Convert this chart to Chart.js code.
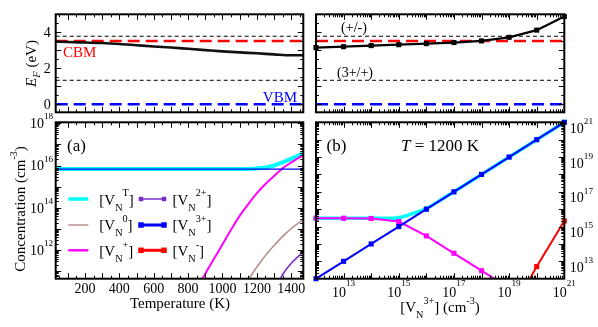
<!DOCTYPE html>
<html>
<head>
<meta charset="utf-8">
<title>Nitrogen vacancy charge states</title>
<script src="https://cdn.jsdelivr.net/npm/chart.js@4.4.1/dist/chart.umd.min.js"></script>
<style>
  html, body { margin: 0; padding: 0; background: #fff; }
  #fig { position: relative; width: 598px; height: 327px; overflow: hidden; }
  #fig canvas { position: absolute; left: 0; top: 0; }
</style>
</head>
<body>
<div id="fig">
  <canvas id="efTemp" width="598" height="327"></canvas>
  <canvas id="efDop" width="598" height="327"></canvas>
  <canvas id="concTemp" width="598" height="327"></canvas>
  <canvas id="concDop" width="598" height="327"></canvas>
</div>
<script>
const SERIF = '"Liberation Serif", "Times New Roman", Times, serif';

// ---------- (a) temperature sweep ----------
const efTemps   = [30, 100, 200, 300, 400, 500, 600, 700, 800, 900, 1000, 1100, 1200, 1300, 1400, 1470];
const efVsTemp  = [3.48, 3.46, 3.43, 3.40, 3.35, 3.28, 3.21, 3.15, 3.08, 3.01, 2.94, 2.88, 2.83, 2.77, 2.72, 2.72];

const flatTemps     = [30, 1470];
const vn3VsTemp     = [6.8e15, 6.8e15];

const totalTemps    = [30, 1100, 1150, 1200, 1250, 1300, 1350, 1400, 1450, 1470];
const totalVsTemp   = [6.8e15, 6.8e15, 6.9e15, 7.3e15, 8.1e15, 1.0e16, 1.42e16, 2.1e16, 3.2e16, 3.7e16];

const plusTemps     = [850, 900, 950, 1000, 1050, 1100, 1150, 1200, 1250, 1300, 1350, 1400, 1450, 1470];
const plusVsTemp    = [1.5e10, 7.8e10, 3.8e11, 1.9e12, 9.3e12, 4.2e13, 1.5e14, 5.0e14, 1.35e15, 3.2e15, 7.4e15, 1.4e16, 2.5e16, 3.0e16];

const neutralTemps  = [1100, 1150, 1200, 1250, 1300, 1350, 1400, 1450, 1470];
const neutralVsTemp = [8.9e9, 4.0e10, 1.6e11, 5.6e11, 1.66e12, 4.5e12, 1.05e13, 2.1e13, 2.75e13];

const twoPlusTemps  = [1300, 1350, 1400, 1450, 1470];
const twoPlusVsTemp = [1.0e10, 7.1e10, 2.4e11, 6.0e11, 8.5e11];

// ---------- (b) [VN3+] sweep at 1200 K ----------
const vn3Doping     = [1e12, 1e13, 1e14, 1e15, 1e16, 1e17, 1e18, 1e19, 1e20, 1e21];
const efVsDoping    = [3.15, 3.20, 3.26, 3.31, 3.37, 3.43, 3.52, 3.72, 4.12, 4.88];
const totalVsDoping = [3.0e15, 3.0e15, 3.0e15, 3.0e15, 1.03e16, 1.0e17, 1.0e18, 1.0e19, 1.0e20, 1.0e21];
const plusVsDoping  = [3.0e15, 3.0e15, 2.9e15, 1.95e15, 2.9e14, 2.9e13, 2.9e12, 2.9e11, 2.9e10, 2.9e9];
const minusVsDoping = [null, null, null, null, null, null, null, 7e9, 5e12, 2.1e15];

// band edges and transition levels (eV)
const bandEdges        = [3.52, 0];      // CBM, VBM
const transitionLevels = [3.78, 1.33];   // (+/-), (3+/+)

// axis tick labels
const efTickLabels   = [0, 2, 4];
const tempTickLabels = [200, 400, 600, 800, 1000, 1200, 1400];
const concTickExps   = [12, 14, 16, 18];
const dopTickExps    = [13, 15, 17, 19, 21];

// axis ranges
const tempRange = [30, 1470];
const efRange   = [-0.45, 5];
const dopRange  = [1e12, 1e21];
const concRangeA = [4.5e10, 1.1e18];
const concRangeB = [1e12, 1e21];

// ---------- colours ----------
const C = {
  total: '#00ffff', neutral: '#b8928e', plus: '#ff00ff',
  twoPlus: '#7b2fc9', threePlus: '#0000ff', minus: '#ff0000',
  cbm: '#ff0000', vbm: '#0000ff'
};

// ---------- helpers ----------
const pairs = (xs, ys) => xs.map((x, i) => ({ x, y: ys[i] })).filter(p => p.y !== null);
const inRange = (pts, lo) => pts.filter(p => p.y >= lo);

function linTicks(from, to, step) {
  const out = [];
  for (let v = from; v <= to + 1e-9; v += step) out.push(+v.toFixed(6));
  return out;
}
function logTicks(lo, hi) {
  const major = [], minor = [];
  for (let e = lo; e <= hi; e++) {
    major.push(Math.pow(10, e));
    if (e < hi) for (let k = 2; k <= 9; k++) minor.push(k * Math.pow(10, e));
  }
  return { major, minor };
}

// text with italic / subscript / superscript runs
function rich(ctx, parts, x, y, size, align, supShift = 0.55, subShift = 0.36, small = 0.66) {
  const seg = parts.map(([t, s = '']) => {
    const isSmall = s.includes('b') || s.includes('p');
    const fs = isSmall ? size * small : size;
    const font = (s.includes('i') ? 'italic ' : '') + fs + 'px ' + SERIF;
    ctx.font = font;
    return { t, font, w: ctx.measureText(t).width,
             dy: s.includes('b') ? size * subShift : s.includes('p') ? -size * supShift : 0 };
  });
  const total = seg.reduce((s, g) => s + g.w, 0);
  let cx = align === 'center' ? x - total / 2 : align === 'right' ? x - total : x;
  ctx.textAlign = 'left';
  ctx.textBaseline = 'alphabetic';
  for (const g of seg) { ctx.font = g.font; ctx.fillText(g.t, cx, y + g.dy); cx += g.w; }
}
const pow10 = e => [['10'], [String(e), 'p']];

function drawTicks(chart, xt, yt) {
  const { ctx, chartArea: a, scales: { x, y } } = chart;
  ctx.save();
  ctx.strokeStyle = '#000';
  ctx.lineWidth = 1;
  ctx.beginPath();
  const put = (vals, len, horiz) => vals.forEach(v => {
    if (horiz) {
      const p = Math.round(x.getPixelForValue(v)) + 0.5;
      if (p <= a.left + 1 || p >= a.right - 1) return;
      ctx.moveTo(p, a.bottom); ctx.lineTo(p, a.bottom - len);
      ctx.moveTo(p, a.top); ctx.lineTo(p, a.top + len);
    } else {
      const p = Math.round(y.getPixelForValue(v)) + 0.5;
      if (p <= a.top + 1 || p >= a.bottom - 1) return;
      ctx.moveTo(a.left, p); ctx.lineTo(a.left + len, p);
      ctx.moveTo(a.right, p); ctx.lineTo(a.right - len, p);
    }
  });
  put(xt.major, 5.5, true); put(xt.minor, 3, true);
  put(yt.major, 5.5, false); put(yt.minor, 3, false);
  ctx.stroke();
  ctx.lineWidth = 2;
  ctx.strokeRect(a.left, a.top, a.right - a.left, a.bottom - a.top);
  ctx.restore();
}

function hline(y, xs, color, width, dash) {
  return { data: xs.map(x => ({ x, y })), borderColor: color, borderWidth: width,
           borderDash: dash, pointRadius: 0, clip: 0, order: 50 };
}
function curve(pts, color, width, order, smooth) {
  return { data: pts, borderColor: color, borderWidth: width, pointRadius: 0,
           cubicInterpolationMode: smooth ? 'monotone' : 'default', tension: 0,
           clip: 0, order };
}
function marks(pts, color, order) {
  return { data: pts, showLine: false, pointStyle: 'rect', pointRadius: 3.6,
           pointBackgroundColor: color, pointBorderColor: color, pointBorderWidth: 0,
           clip: false, order };
}

function panel(id, area, scales, datasets, decorate) {
  return new Chart(document.getElementById(id), {
    type: 'line',
    data: { datasets },
    options: {
      responsive: false, animation: false, devicePixelRatio: 1,
      layout: { padding: { left: area.l, top: area.t, right: 598 - area.r, bottom: 327 - area.b } },
      scales: {
        x: Object.assign({ display: false }, scales.x),
        y: Object.assign({ display: false }, scales.y)
      },
      plugins: { legend: { display: false }, tooltip: { enabled: false } },
      events: []
    },
    plugins: [{ id: 'frameAndText', afterDatasetsDraw: decorate }]
  });
}

const AREA = {
  tl: { l: 55.7, t: 14.3, r: 303.3, b: 112.3 },
  tr: { l: 316,  t: 14.3, r: 564.3, b: 112.3 },
  bl: { l: 55.7, t: 122.3, r: 303.3, b: 278.7 },
  br: { l: 316,  t: 122.3, r: 564.3, b: 278.7 }
};

const efYTicks   = { major: linTicks(0, 5, 1), minor: linTicks(0.5, 4.5, 1) };
const tempXTicks = { major: linTicks(100, 1400, 100), minor: linTicks(50, 1450, 100) };
const dopXTicks  = logTicks(12, 21);
const concYTicksA = logTicks(10, 18);
const concYTicksB = logTicks(12, 21);

function levelLines(xs) {
  return [
    hline(transitionLevels[0], xs, '#000', 1, [4, 3]),
    hline(transitionLevels[1], xs, '#000', 1, [4, 3]),
    hline(bandEdges[0], xs, C.cbm, 2.5, [12, 6]),
    hline(bandEdges[1], xs, C.vbm, 2.5, [12, 6])
  ];
}

// ---------- top left: Fermi level vs temperature ----------
panel('efTemp', AREA.tl,
  { x: { type: 'linear', min: tempRange[0], max: tempRange[1] },
    y: { type: 'linear', min: efRange[0], max: efRange[1] } },
  [...levelLines(tempRange), Object.assign(curve(pairs(efTemps, efVsTemp), '#111', 2.6, 1, true), { clip: 2 })],
  chart => {
    drawTicks(chart, tempXTicks, efYTicks);
    const { ctx, chartArea: a, scales: { y } } = chart;
    ctx.save();
    ctx.fillStyle = '#000';
    efTickLabels.forEach(v => rich(ctx, [[String(v)]], a.left - 5, y.getPixelForValue(v) + 4.8, 14, 'right'));
    ctx.fillStyle = C.cbm;
    rich(ctx, [['CBM']], 63, 56.5, 15, 'left');
    ctx.fillStyle = C.vbm;
    rich(ctx, [['VBM']], 297, 101.5, 15, 'right');
    ctx.fillStyle = '#000';
    ctx.translate(35.5, 63.5);
    ctx.rotate(-Math.PI / 2);
    rich(ctx, [['E', 'i'], ['F', 'ib'], [' (eV)']], 0, 0, 15, 'center', 0.55, 0.3, 0.7);
    ctx.restore();
  });

// ---------- top right: Fermi level vs [VN3+] ----------
panel('efDop', AREA.tr,
  { x: { type: 'logarithmic', min: dopRange[0], max: dopRange[1] },
    y: { type: 'linear', min: efRange[0], max: efRange[1] } },
  [...levelLines(dopRange),
   curve(pairs(vn3Doping, efVsDoping), '#000', 2.2, 2, false),
   marks(pairs(vn3Doping, efVsDoping), '#000', 1)],
  chart => {
    drawTicks(chart, dopXTicks, efYTicks);
    const { ctx } = chart;
    ctx.save();
    ctx.fillStyle = '#000';
    rich(ctx, [['(+/-)']], 354, 32, 14, 'center');
    rich(ctx, [['(3+/+)']], 355, 76.5, 14, 'center');
    ctx.restore();
  });

// ---------- bottom left: concentrations vs temperature ----------
const legendItems = [
  { sup: 'T',  color: C.total,     lw: 3.5, box: 0 },
  { sup: '0',  color: C.neutral,   lw: 1.5, box: 0 },
  { sup: '+',  color: C.plus,      lw: 2.5, box: 0 },
  { sup: '2+', color: C.twoPlus,   lw: 1.5, box: 4.5 },
  { sup: '3+', color: C.threePlus, lw: 3,   box: 5.5 },
  { sup: '-',  color: C.minus,     lw: 3,   box: 5.5 }
];
const legendLayout = { lineX: [[68.3, 88.3], [141, 164]], textX: [99.3, 172.5],
                       lineY: [199, 225, 250.3], baseY: [204.5, 230.2, 255.8] };

panel('concTemp', AREA.bl,
  { x: { type: 'linear', min: tempRange[0], max: tempRange[1] },
    y: { type: 'logarithmic', min: concRangeA[0], max: concRangeA[1] } },
  [
    curve(pairs(totalTemps, totalVsTemp), C.total, 4, 9, true),
    curve(pairs(plusTemps, plusVsTemp), C.plus, 2, 8, true),
    curve(pairs(neutralTemps, neutralVsTemp), C.neutral, 1.6, 7, true),
    curve(pairs(twoPlusTemps, twoPlusVsTemp), C.twoPlus, 1.6, 6, true),
    curve(pairs(flatTemps, vn3VsTemp), C.threePlus, 1.3, 5, false)
  ],
  chart => {
    drawTicks(chart, tempXTicks, concYTicksA);
    const { ctx, chartArea: a, scales: { x, y } } = chart;
    ctx.save();
    ctx.fillStyle = '#000';
    concTickExps.forEach(e => rich(ctx, pow10(e), a.left - 2.5, y.getPixelForValue(Math.pow(10, e)) + 4.8, 14, 'right', 0.62));
    tempTickLabels.forEach(v => rich(ctx, [[String(v)]], x.getPixelForValue(v), 292.5, 14, 'center'));
    rich(ctx, [['Temperature (K)']], 180, 307.5, 15, 'center');
    rich(ctx, [['(a)']], 76.5, 151, 17, 'center');
    // legend
    legendItems.forEach((it, i) => {
      const col = Math.floor(i / 3), row = i % 3;
      const [x0, x1] = legendLayout.lineX[col];
      const ly = legendLayout.lineY[row];
      ctx.strokeStyle = it.color; ctx.lineWidth = it.lw;
      ctx.beginPath(); ctx.moveTo(x0, ly); ctx.lineTo(x1, ly); ctx.stroke();
      if (it.box) {
        ctx.fillStyle = it.color;
        [x0, x1].forEach(bx => ctx.fillRect(bx - it.box / 2, ly - it.box / 2, it.box, it.box));
      }
      ctx.fillStyle = '#000';
      rich(ctx, [['[V'], ['N', 'b'], [it.sup, 'p'], [']']], legendLayout.textX[col], legendLayout.baseY[row], 15, 'left', 0.55, 0.4, 0.68);
    });
    ctx.translate(24.5, 209);
    ctx.rotate(-Math.PI / 2);
    rich(ctx, [['Concentration (cm'], ['-3', 'p'], [')']], 0, 0, 15, 'center', 0.5);
    ctx.restore();
  });

// ---------- bottom right: concentrations vs [VN3+] ----------
const lo = concRangeB[0];
panel('concDop', AREA.br,
  { x: { type: 'logarithmic', min: dopRange[0], max: dopRange[1] },
    y: { type: 'logarithmic', min: concRangeB[0], max: concRangeB[1] } },
  [
    curve(pairs(vn3Doping, totalVsDoping), C.total, 3.5, 20, false),
    marks(inRange(pairs(vn3Doping, totalVsDoping), lo), C.total, 19),
    curve(pairs(vn3Doping, plusVsDoping), C.plus, 2, 18, false),
    marks(inRange(pairs(vn3Doping, plusVsDoping), lo), C.plus, 17),
    curve(pairs(vn3Doping, vn3Doping), C.threePlus, 2, 16, false),
    marks(inRange(pairs(vn3Doping, vn3Doping), lo), C.threePlus, 15),
    curve(pairs(vn3Doping, minusVsDoping), C.minus, 2, 14, false),
    marks(inRange(pairs(vn3Doping, minusVsDoping), lo), C.minus, 13)
  ],
  chart => {
    drawTicks(chart, dopXTicks, concYTicksB);
    const { ctx, chartArea: a, scales: { x, y } } = chart;
    ctx.save();
    ctx.fillStyle = '#000';
    dopTickExps.forEach(e => rich(ctx, pow10(e), a.right + 5.5, y.getPixelForValue(Math.pow(10, e)) + 10.5, 14, 'left', 0.62));
    dopTickExps.forEach(e => rich(ctx, pow10(e), x.getPixelForValue(Math.pow(10, e)), 296.5, 14, 'center', 0.72));
    rich(ctx, [['[V'], ['N', 'b'], ['3+', 'p'], ['] (cm'], ['-3', 'p'], [')']], 440, 312, 15, 'center', 0.55, 0.4, 0.68);
    rich(ctx, [['(b)']], 336.5, 151, 17, 'center');
    rich(ctx, [['T', 'i'], [' = 1200 K']], 440, 151, 17, 'center');
    ctx.restore();
  });
</script>
</body>
</html>
